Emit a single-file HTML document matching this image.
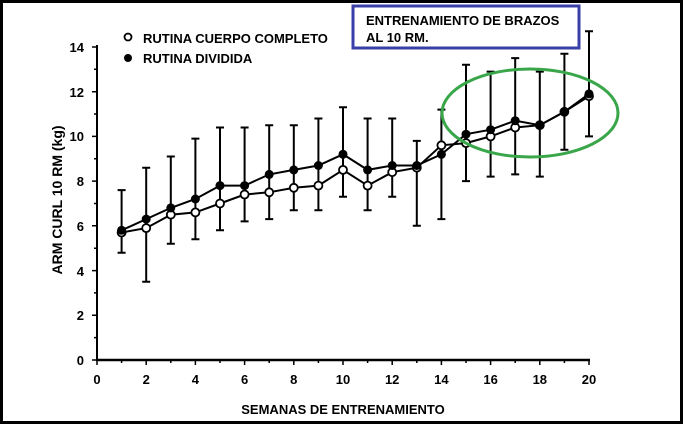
<!DOCTYPE html>
<html><head><style>body{margin:0;background:#fff}svg{display:block}text{font-family:"Liberation Sans",Arial,sans-serif;font-weight:bold;fill:#000}</style></head>
<body>
<svg width="683" height="424" viewBox="0 0 683 424" xmlns="http://www.w3.org/2000/svg">
<rect x="1.5" y="1.5" width="680" height="421" fill="#fff" stroke="#000" stroke-width="3"/>
<line x1="97" y1="45" x2="97" y2="361" stroke="#000" stroke-width="2"/>
<line x1="96" y1="360" x2="590" y2="360" stroke="#000" stroke-width="2.5"/>
<path stroke="#000" stroke-width="1.5" fill="none" d="M92 360h5M94 337.6h3M92 315.3h5M94 292.9h3M92 270.6h5M94 248.2h3M92 225.8h5M94 203.5h3M92 181.1h5M94 158.8h3M92 136.4h5M94 114h3M92 91.7h5M94 69.3h3M92 47h5
M97 360v5M121.6 360v3M146.2 360v5M170.8 360v3M195.4 360v5M220 360v3M244.6 360v5M269.2 360v3M293.8 360v5M318.4 360v3M343 360v5M367.6 360v3M392.2 360v5M416.8 360v3M441.4 360v5M466 360v3M490.6 360v5M515.2 360v3M539.8 360v5M564.4 360v3M589 360v5"/>
<g font-size="13" text-anchor="end">
<text x="84" y="365">0</text><text x="84" y="320">2</text><text x="84" y="276">4</text><text x="84" y="231">6</text><text x="84" y="186">8</text><text x="84" y="141">10</text><text x="84" y="97">12</text><text x="84" y="52">14</text>
</g>
<g font-size="13" text-anchor="middle">
<text x="97" y="384">0</text><text x="146.2" y="384">2</text><text x="195.4" y="384">4</text><text x="244.6" y="384">6</text><text x="293.8" y="384">8</text><text x="343" y="384">10</text><text x="392.2" y="384">12</text><text x="441.4" y="384">14</text><text x="490.6" y="384">16</text><text x="539.8" y="384">18</text><text x="589" y="384">20</text>
</g>
<path stroke="#000" stroke-width="2" fill="none" d="
M121.6 190.1V252.7M117.6 190.1h8M117.6 252.7h8
M146.2 167.7V281.7M142.2 167.7h8M142.2 281.7h8
M170.8 156.5V243.7M166.8 156.5h8M166.8 243.7h8
M195.4 138.6V239.3M191.4 138.6h8M191.4 239.3h8
M220 127.5V230.3M216 127.5h8M216 230.3h8
M244.6 127.5V221.4M240.6 127.5h8M240.6 221.4h8
M269.2 125.2V219.1M265.2 125.2h8M265.2 219.1h8
M293.8 125.2V210.2M289.8 125.2h8M289.8 210.2h8
M318.4 118.5V210.2M314.4 118.5h8M314.4 210.2h8
M343 107.3V196.8M339 107.3h8M339 196.8h8
M367.6 118.5V210.2M363.6 118.5h8M363.6 210.2h8
M392.2 118.5V196.8M388.2 118.5h8M388.2 196.8h8
M416.8 140.9V225.8M412.8 140.9h8M412.8 225.8h8
M441.4 109.6V219.1M437.4 109.6h8M437.4 219.1h8
M466 64.8V181.1M462 64.8h8M462 181.1h8
M490.6 71.6V176.6M486.6 71.6h8M486.6 176.6h8
M515.2 58.1V174.4M511.2 58.1h8M511.2 174.4h8
M539.8 71.6V176.6M535.8 71.6h8M535.8 176.6h8
M564.4 53.7V149.8M560.4 53.7h8M560.4 149.8h8
M589 31.3V136.4M585 31.3h8M585 136.4h8"/>
<polyline fill="none" stroke="#000" stroke-width="2" points="121.6,232.5 146.2,228.1 170.8,214.7 195.4,212.4 220,203.5 244.6,194.5 269.2,192.3 293.8,187.8 318.4,185.6 343,169.9 367.6,185.6 392.2,172.2 416.8,167.7 441.4,145.3 466,143.1 490.6,136.4 515.2,127.5 539.8,125.2 564.4,111.8 589,96.2"/>
<polyline fill="none" stroke="#000" stroke-width="2" points="121.6,230.3 146.2,219.1 170.8,207.9 195.4,199 220,185.6 244.6,185.6 269.2,174.4 293.8,169.9 318.4,165.5 343,154.3 367.6,169.9 392.2,165.5 416.8,165.5 441.4,154.3 466,134.2 490.6,129.7 515.2,120.7 539.8,125.2 564.4,111.8 589,93.9"/>
<g fill="#fff" stroke="#000" stroke-width="1.8">
<circle cx="121.6" cy="232.5" r="4"/><circle cx="146.2" cy="228.1" r="4"/><circle cx="170.8" cy="214.7" r="4"/><circle cx="195.4" cy="212.4" r="4"/><circle cx="220" cy="203.5" r="4"/><circle cx="244.6" cy="194.5" r="4"/><circle cx="269.2" cy="192.3" r="4"/><circle cx="293.8" cy="187.8" r="4"/><circle cx="318.4" cy="185.6" r="4"/><circle cx="343" cy="169.9" r="4"/><circle cx="367.6" cy="185.6" r="4"/><circle cx="392.2" cy="172.2" r="4"/><circle cx="416.8" cy="167.7" r="4"/><circle cx="441.4" cy="145.3" r="4"/><circle cx="466" cy="143.1" r="4"/><circle cx="490.6" cy="136.4" r="4"/><circle cx="515.2" cy="127.5" r="4"/><circle cx="539.8" cy="125.2" r="4"/><circle cx="564.4" cy="111.8" r="4"/><circle cx="589" cy="96.2" r="4"/>
</g>
<g fill="#000">
<circle cx="121.6" cy="230.3" r="4.5"/><circle cx="146.2" cy="219.1" r="4.5"/><circle cx="170.8" cy="207.9" r="4.5"/><circle cx="195.4" cy="199" r="4.5"/><circle cx="220" cy="185.6" r="4.5"/><circle cx="244.6" cy="185.6" r="4.5"/><circle cx="269.2" cy="174.4" r="4.5"/><circle cx="293.8" cy="169.9" r="4.5"/><circle cx="318.4" cy="165.5" r="4.5"/><circle cx="343" cy="154.3" r="4.5"/><circle cx="367.6" cy="169.9" r="4.5"/><circle cx="392.2" cy="165.5" r="4.5"/><circle cx="416.8" cy="165.5" r="4.5"/><circle cx="441.4" cy="154.3" r="4.5"/><circle cx="466" cy="134.2" r="4.5"/><circle cx="490.6" cy="129.7" r="4.5"/><circle cx="515.2" cy="120.7" r="4.5"/><circle cx="539.8" cy="125.2" r="4.5"/><circle cx="564.4" cy="111.8" r="4.5"/><circle cx="589" cy="93.9" r="4.5"/>
</g>
<rect x="353" y="6" width="226" height="42" fill="none" stroke="#3a3fa8" stroke-width="3"/>
<text x="366" y="25" font-size="13">ENTRENAMIENTO DE BRAZOS</text>
<text x="366" y="42" font-size="13">AL 10 RM.</text>
<circle cx="128" cy="37" r="3.5" fill="#fff" stroke="#000" stroke-width="1.8"/>
<circle cx="128" cy="58" r="4" fill="#000"/>
<text x="143" y="43" font-size="13">RUTINA CUERPO COMPLETO</text>
<text x="143" y="63" font-size="13">RUTINA DIVIDIDA</text>
<text transform="translate(62,200) rotate(-90)" text-anchor="middle" font-size="14">ARM CURL 10 RM (kg)</text>
<text x="343" y="414" text-anchor="middle" font-size="13">SEMANAS DE ENTRENAMIENTO</text>
<ellipse cx="530" cy="113" rx="88" ry="44" fill="none" stroke="#3aa64a" stroke-width="3"/>
</svg>
</body></html>
